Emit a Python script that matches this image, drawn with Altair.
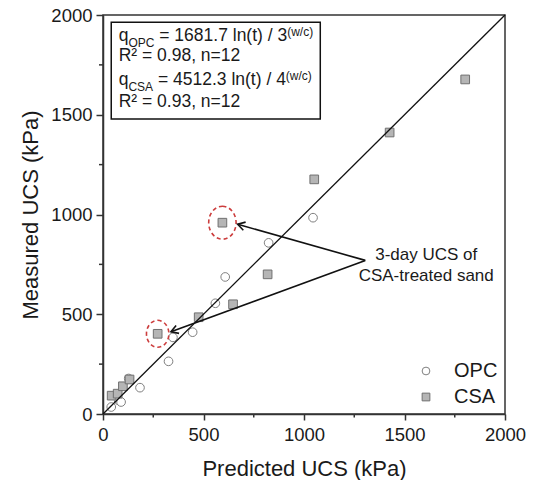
import altair as alt
import pandas as pd
import numpy as np

# ---------------- data ----------------
opc_pred = [41, 78, 90, 128, 184, 326, 348, 446, 559, 608, 824, 1045]
opc_meas = [35, 68, 60, 178, 132, 264, 384, 410, 555, 687, 858, 984]
csa_pred = [43, 73, 99, 132, 272, 476, 594, 647, 819, 1051, 1426, 1802]
csa_meas = [92, 102, 139, 173, 402, 485, 959, 550, 700, 1176, 1411, 1677]

series_names = ["OPC", "CSA"]
x_major = [0, 500, 1000, 1500, 2000]
x_minor = [250, 750, 1250, 1750]
y_major = [0, 500, 1000, 1500, 2000]
y_minor = [250, 750, 1250, 1750]
identity_x = [0, 2000]
identity_y = [0, 2000]

# highlighted 3-day CSA points
circ_x = [272, 594]
circ_y = [402, 959]
circ_size = [729, 1089]

# arrows: start (text) -> tip
arrow_x0 = [1305, 1305]
arrow_y0 = [770, 770]
arrow_x1 = [670, 338]
arrow_y1 = [951, 412]

anno_lines = ["3-day UCS of", "CSA-treated sand"]
anno_x = [1608, 1608]
anno_y = [773, 665]

# equation box
box_x = [41]
box_x2 = [1081]
box_y = [1964]
box_y2 = [1479]
row_y = [1872, 1767, 1647, 1537]
rows = [
    [("q", "main"), ("OPC", "sub"), (" = 1681.7 ln(t) / 3", "main"), ("(w/c)", "sup")],
    [("R\u00b2 = 0.98, n=12", "main")],
    [("q", "main"), ("CSA", "sub"), (" = 4512.3 ln(t) / 4", "main"), ("(w/c)", "sup")],
    [("R\u00b2 = 0.93, n=12", "main")],
]
text_x0 = 78

# ---------------- layout ----------------
W, H = 402, 399
FONT = "Liberation Sans"
MAIN_FS, SUB_FS = 17.5, 12
KX = 2000 / W
KY = 2000 / H

arial = {' ': 278, '(': 333, ')': 333, ',': 278, '.': 278, '/': 278, '=': 584,
         'A': 667, 'C': 722, 'O': 778, 'P': 667, 'R': 722, 'S': 667, 'c': 500,
         'l': 222, 'n': 556, 'q': 556, 't': 278, 'w': 722, '\u00b2': 333}
for d in "0123456789":
    arial[d] = 556


def tw(s, fs):
    return sum(arial.get(ch, 556) for ch in s) / 1000 * fs


seg_rows = []
for ri, row in enumerate(rows):
    cx = 0.0
    for txt, kind in row:
        fs = MAIN_FS if kind == "main" else SUB_FS
        stripped = txt.lstrip(" ")
        cx += tw(txt[: len(txt) - len(stripped)], fs)   # leading spaces are collapsed in SVG
        seg_rows.append({"t": stripped, "kind": kind, "x": text_x0 + cx * KX, "y": row_y[ri]})
        cx += tw(stripped, fs)
segs = pd.DataFrame(seg_rows)

pts = pd.DataFrame({
    "series": ["OPC"] * len(opc_pred) + ["CSA"] * len(csa_pred),
    "pred": opc_pred + csa_pred,
    "meas": opc_meas + csa_meas,
})
ident = pd.DataFrame({"pred": identity_x, "meas": identity_y})
circ = pd.DataFrame({"x": circ_x, "y": circ_y, "s": circ_size})
arr = pd.DataFrame({"x0": arrow_x0, "y0": arrow_y0, "x1": arrow_x1, "y1": arrow_y1})
dxp = (arr["x1"] - arr["x0"]) / KX
dyp = -(arr["y1"] - arr["y0"]) / KY
arr["ang"] = (np.degrees(np.arctan2(dyp, dxp)) + 360) % 360
anno = pd.DataFrame({"t": anno_lines, "x": anno_x, "y": anno_y})
box = pd.DataFrame({"x": box_x, "x2": box_x2, "y": box_y, "y2": box_y2})
xmin_df = pd.DataFrame({"v": x_minor})
ymin_df = pd.DataFrame({"v": y_minor})

xs = alt.Scale(domain=[0, 2000], nice=False, zero=False)
ys = alt.Scale(domain=[0, 2000], nice=False, zero=False)

common_axis = dict(grid=False, domainColor="#333", domainWidth=1.5, tickColor="#333",
                   tickWidth=1.5, labelColor="#1a1a1a", titleColor="#1a1a1a",
                   labelFont=FONT, titleFont=FONT, labelFontSize=18.5, titleFontSize=22,
                   titleFontWeight="normal", format="d")

ax_x = alt.Axis(values=x_major, title="Predicted UCS (kPa)", orient="bottom", labelFlush=False,
                tickSize=6, labelPadding=5, titlePadding=15, **common_axis)
ax_y = alt.Axis(values=y_major, title="Measured UCS (kPa)", orient="left",
                tickSize=7, labelPadding=4, titlePadding=8, **common_axis)

line = alt.Chart(ident).mark_line(color="#111", strokeWidth=1.3).encode(
    x=alt.X("pred:Q", scale=xs, axis=None),
    y=alt.Y("meas:Q", scale=ys, axis=None),
)

# minor ticks (outside the frame, like the axis ticks)
xminor = alt.Chart(xmin_df).mark_rule(color="#333", strokeWidth=1.5).encode(
    x=alt.X("v:Q", scale=xs, axis=None), y=alt.value(H), y2=alt.value(H + 3.5),
)
yminor = alt.Chart(ymin_df).mark_rule(color="#333", strokeWidth=1.5).encode(
    y=alt.Y("v:Q", scale=ys, axis=None), x=alt.value(0), x2=alt.value(-4),
)

leg = alt.Legend(title=None, orient="none", legendX=313, legendY=346, labelFont=FONT,
                 labelFontSize=20, labelColor="#1a1a1a", symbolSize=60, labelOffset=18,
                 rowPadding=6, padding=0, symbolStrokeWidth=1)

points = alt.Chart(pts).mark_point(filled=True, size=75, strokeWidth=1, opacity=1).encode(
    x=alt.X("pred:Q", scale=xs, axis=ax_x),
    y=alt.Y("meas:Q", scale=ys, axis=ax_y),
    shape=alt.Shape("series:N", scale=alt.Scale(domain=series_names, range=["circle", "square"]),
                    legend=leg),
    fill=alt.Fill("series:N", scale=alt.Scale(domain=series_names, range=["#ffffff", "#b5b5b5"]),
                  legend=leg),
    stroke=alt.Stroke("series:N", scale=alt.Scale(domain=series_names, range=["#808080", "#707070"]),
                      legend=leg),
)

ellipse_path = "M0,-1A0.83,1,0,1,1,0,1A0.83,1,0,1,1,0,-1Z"
circles = alt.Chart(circ).mark_point(shape=ellipse_path, filled=False, stroke="#cc3d3d",
                                     strokeWidth=1.6, strokeDash=[4, 3], opacity=1).encode(
    x=alt.X("x:Q", scale=xs, axis=None),
    y=alt.Y("y:Q", scale=ys, axis=None),
    size=alt.Size("s:Q", scale=None, legend=None),
)

rules = alt.Chart(arr).mark_rule(color="#111", strokeWidth=1.6).encode(
    x=alt.X("x0:Q", scale=xs, axis=None), y=alt.Y("y0:Q", scale=ys, axis=None),
    x2="x1:Q", y2="y1:Q",
)
heads = alt.Chart(arr).mark_point(shape="M-1,-0.6L0,0L-1,0.6", filled=False, stroke="#111",
                                  strokeWidth=1.6, size=200, opacity=1).encode(
    x=alt.X("x1:Q", scale=xs, axis=None), y=alt.Y("y1:Q", scale=ys, axis=None),
    angle=alt.Angle("ang:Q", scale=None),
)

anno_text = alt.Chart(anno).mark_text(font=FONT, fontSize=17, align="center",
                                      baseline="alphabetic", color="#1a1a1a").encode(
    x=alt.X("x:Q", scale=xs, axis=None), y=alt.Y("y:Q", scale=ys, axis=None), text="t:N",
)

box_rect = alt.Chart(box).mark_rect(fill="white", stroke="#111", strokeWidth=1.5).encode(
    x=alt.X("x:Q", scale=xs, axis=None), x2="x2:Q",
    y=alt.Y("y:Q", scale=ys, axis=None), y2="y2:Q",
)


def seg_layer(kind, fs, dy):
    return alt.Chart(segs).transform_filter(alt.datum.kind == kind).mark_text(
        font=FONT, fontSize=fs, align="left", baseline="alphabetic", dy=dy, color="#1a1a1a"
    ).encode(x=alt.X("x:Q", scale=xs, axis=None), y=alt.Y("y:Q", scale=ys, axis=None), text="t:N")


chart = alt.layer(
    points, line, xminor, yminor, circles, rules, heads, anno_text, box_rect,
    seg_layer("main", MAIN_FS, 0), seg_layer("sub", SUB_FS, 6), seg_layer("sup", SUB_FS, -5),
).resolve_axis(x="independent", y="independent").properties(
    width=W, height=H,
    autosize=alt.AutoSizeParams(type="none"),
    padding={"left": 95, "top": 7, "right": 24, "bottom": 66},
).configure_view(stroke="#333", strokeWidth=1.5)

chart.save("out.html", embed_options={"renderer": "svg", "actions": False})
